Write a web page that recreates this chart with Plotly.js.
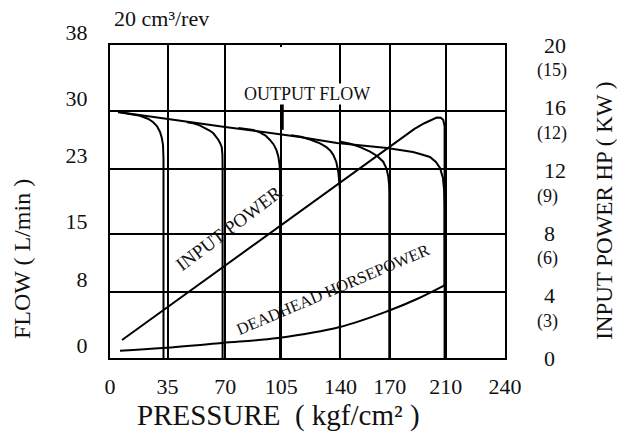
<!DOCTYPE html>
<html>
<head>
<meta charset="utf-8">
<script src="https://cdn.plot.ly/plotly-3.0.1.min.js"></script>
<style>html,body{margin:0;padding:0;background:#fff}#chart{width:617px;height:436px}</style>
</head>
<body>
<div id="chart"></div>
<script>
// Axis ticks and labels
const pressureTicks = [0, 35, 70, 104, 140, 170, 204, 240];
const pressureLabels = ['0', '35', '70', '105', '140', '170', '210', '240'];
const flowTicks = [0, 8, 15, 23, 30, 38];
const hpTicks = [0, 4, 8, 12, 16, 20];
const kwTicks = [4, 8, 12, 16, 20];
const kwLabels = ['(3)', '(6)', '(9)', '(12)', '(15)'];

// Output flow (L/min) – nominal line ending in the 210 relief drop
const mainP = [4.9, 34.6, 69.9, 115.4, 137.9, 168.3, 184.1, 188.4, 194.4, 198, 200.5, 202.3, 203, 203.3, 203.3];
const mainF = [29.87, 29.0, 28.05, 26.83, 26.1, 25.5, 25.0, 24.77, 24.4, 23.8, 23.07, 21.85, 20.4, 18.5, 0];

// Relief-valve cut-off curves (L/min)
const relief35P = [4.9, 12, 18.2, 23, 26.1, 28.5, 30.4, 31.5, 32.2, 32.5, 32.5];
const relief35F = [29.87, 29.65, 29.4, 29.05, 28.65, 28.15, 27.44, 26.7, 25.86, 24.2, 0];
const relief70P = [46.8, 50.6, 54.5, 57.7, 60.5, 62.8, 64.5, 65.8, 67, 67.9, 68.3, 68.4, 68.4];
const relief70F = [28.62, 28.49, 28.25, 27.95, 27.62, 27.28, 26.9, 26.5, 26.05, 25.6, 24.7, 23.5, 0];
const relief105P = [78, 81, 87.1, 91, 94.5, 97.2, 99.5, 101.2, 102.3, 103, 103.3, 103.3];
const relief105F = [27.92, 27.85, 27.68, 27.4, 27.0, 26.47, 25.9, 25.2, 24.44, 23.5, 22.5, 0];
const relief140P = [110, 116, 122, 127.6, 131.5, 134, 135.7, 137.5, 138.7, 139.4, 139.7, 139.7];
const relief140F = [27.05, 26.85, 26.5, 26.06, 25.6, 25.15, 24.64, 23.8, 22.62, 21.6, 20.5, 0];
const relief170P = [140, 146, 152, 158, 162.5, 166, 168, 169.1, 169.6, 169.7, 169.7];
const relief170F = [26.26, 26.0, 25.6, 25.05, 24.5, 23.83, 23.0, 22.0, 21.0, 20.0, 0];

// Input power (HP)
const inputP = [7.3, 35, 70, 105, 140, 170, 185, 191, 195.5, 198.5, 201, 202.5, 203.3, 203.3];
const inputHP = [1.15, 3.26, 5.9, 8.56, 11.2, 13.5, 14.64, 15.0, 15.2, 15.36, 15.35, 15.2, 14.8, 4.66];

// Deadhead horsepower (HP)
const deadP = [6.1, 32.2, 68, 102, 139.7, 168.9, 186.5, 203.5];
const deadHP = [0.47, 0.64, 0.96, 1.28, 1.98, 3.0, 3.77, 4.66];

// Pointer from the OUTPUT FLOW label
const pointerP = [104.5, 104.5];
const pointerF = [31.6, 27.7];

const serif = 'Liberation Serif, Times New Roman, serif';
const ink = '#111';

function line(x, y, yaxis, width, shape) {
  return {x: x, y: y, yaxis: yaxis, type: 'scatter', mode: 'lines',
          line: {color: '#000', width: width, shape: shape || 'linear'},
          hoverinfo: 'skip', showlegend: false, cliponaxis: false};
}

// kW scale shares the HP data (helper, invisible) so its axis is drawn
const kwHelper = line(deadP, deadHP, 'y3', 0);
kwHelper.opacity = 0;

const data = [
  line(mainP, mainF, 'y', 2),
  line(relief35P, relief35F, 'y', 2),
  line(relief70P, relief70F, 'y', 2),
  line(relief105P, relief105F, 'y', 2),
  line(relief140P, relief140F, 'y', 2),
  line(relief170P, relief170F, 'y', 2),
  line(pointerP, pointerF, 'y', 3.5),
  line(inputP, inputHP, 'y2', 2),
  line(deadP, deadHP, 'y2', 2, 'spline'),
  kwHelper
];

const layout = {
  width: 617, height: 436,
  margin: {l: 110, r: 112, t: 45, b: 78, pad: 0},
  paper_bgcolor: '#fff', plot_bgcolor: '#fff',
  showlegend: false,
  xaxis: {
    range: [0, 240], tickmode: 'array', tickvals: pressureTicks, ticktext: pressureLabels,
    ticks: '', showgrid: true, gridcolor: '#000', gridwidth: 2,
    showline: true, linecolor: '#000', linewidth: 2, mirror: true, zeroline: false,
    tickfont: {family: serif, size: 22, color: ink}, ticklabelstandoff: 8
  },
  yaxis: {
    range: [0, 38], tickmode: 'array', tickvals: flowTicks,
    ticks: '', showgrid: true, gridcolor: '#000', gridwidth: 2,
    showline: true, linecolor: '#000', linewidth: 2, mirror: true, zeroline: false,
    tickfont: {family: serif, size: 22, color: ink}, ticklabelstandoff: 16, ticklabelshift: -13
  },
  yaxis2: {
    overlaying: 'y', side: 'right', range: [0, 20], tickmode: 'array', tickvals: hpTicks,
    ticks: '', showgrid: false, zeroline: false, showline: false,
    tickfont: {family: serif, size: 22, color: ink}, ticklabelstandoff: 38
  },
  yaxis3: {
    overlaying: 'y', side: 'right', range: [0, 20], tickmode: 'array', tickvals: kwTicks, ticktext: kwLabels,
    ticks: '', showgrid: false, zeroline: false, showline: false,
    tickfont: {family: serif, size: 18, color: ink}, ticklabelstandoff: 31, ticklabelshift: 25
  },
  shapes: [
    {type: 'rect', xref: 'x', yref: 'y', x0: 101.5, x1: 106.5, y0: 31.7, y1: 37.75,
     fillcolor: '#fff', line: {width: 0}, layer: 'between'}
  ],
  annotations: [
    {text: '20 cm³/rev', xref: 'paper', yref: 'paper', x: 0.005, y: 1.086, xanchor: 'left', yanchor: 'middle',
     showarrow: false, font: {family: serif, size: 22, color: ink}},
    {text: 'OUTPUT FLOW', xref: 'x', yref: 'y', x: 119.7, y: 32.05, xanchor: 'center', yanchor: 'middle',
     showarrow: false, bgcolor: '#fff', borderpad: 0, font: {family: serif, size: 18, color: ink}},
    {text: 'INPUT POWER', xref: 'x', yref: 'y2', x: 72, y: 8.3, textangle: -37,
     showarrow: false, font: {family: serif, size: 19, color: ink}},
    {text: 'DEADHEAD HORSEPOWER', xref: 'x', yref: 'y2', x: 135.5, y: 4.4, textangle: -23,
     showarrow: false, font: {family: serif, size: 16.5, color: ink}},
    {text: 'FLOW ( L/min )', xref: 'paper', yref: 'paper', x: -0.2228, y: 0.316, textangle: -90,
     xanchor: 'center', yanchor: 'middle', showarrow: false, font: {family: serif, size: 24, color: ink}},
    {text: 'INPUT POWER HP ( KW )', xref: 'paper', yref: 'paper', x: 1.253, y: 0.47, textangle: -90,
     xanchor: 'center', yanchor: 'middle', showarrow: false, font: {family: serif, size: 23, color: ink}},
    {text: 'PRESSURE\u00a0\u00a0( kgf/cm² )', xref: 'paper', yref: 'paper', x: 0.4266, y: -0.185,
     xanchor: 'center', yanchor: 'middle', showarrow: false, font: {family: serif, size: 29, color: ink}}
  ]
};

Plotly.newPlot('chart', data, layout, {staticPlot: true, displayModeBar: false});
</script>
</body>
</html>
